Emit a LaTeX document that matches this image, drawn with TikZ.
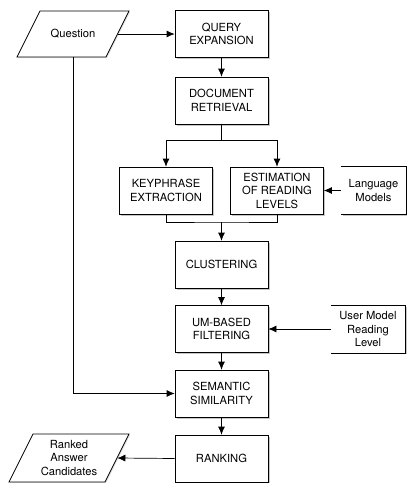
\documentclass[tikz,border=0pt]{standalone}
\usepackage{fontspec}
\setmainfont{TeX Gyre Heros}
\usetikzlibrary{arrows.meta,shadows}

\begin{document}
\begin{tikzpicture}[x=1pt,y=-1pt,>={Latex[length=8pt,width=7pt]},line width=0.7pt,
  font=\fontsize{11.2}{13.5}\selectfont,
  shade/.style={drop shadow={shadow xshift=1.5pt,shadow yshift=-1.5pt,opacity=0.45,fill=gray}},
  box/.style={draw,fill=white,align=center,minimum width=93pt,minimum height=47pt,inner sep=2pt,shade},
  side/.style={fill=white,align=center,minimum height=47pt,inner sep=2pt,shade},
  slant/.style={align=center,minimum height=46pt,inner sep=1pt},
  pgram/.style={draw,fill=white,drop shadow={shadow xshift=1pt,shadow yshift=-1pt,opacity=0.25,fill=gray}}]
\useasboundingbox (0,0) rectangle (407,483);
% main column
\node[box] (qexp) at (221.5,34) {QUERY\\EXPANSION};
\node[box] (docret) at (221.5,100.5) {DOCUMENT\\RETRIEVAL};
\node[box] (keyph) at (166,190.5) {KEYPHRASE\\EXTRACTION};
\node[box] (estim) at (277,190.5) {ESTIMATION\\OF READING\\LEVELS};
\node[box] (clust) at (221.5,264.5) {CLUSTERING};
\node[box] (umfilt) at (221.5,329) {UM-BASED\\FILTERING};
\node[box] (semsim) at (221.5,393.5) {SEMANTIC\\SIMILARITY};
\node[box] (rank) at (221.5,458.5) {RANKING};
% inputs and output
\draw[pgram] (40,11)--(129,11)--(106,57)--(17,57)--cycle;
\node[slant,minimum width=89pt] (question) at (73,34) {Question};
\draw[pgram] (33,434)--(129,434)--(105,482)--(9,482)--cycle;
\node[slant,minimum width=96pt,minimum height=48pt] (answers) at (69,458) {Ranked\\Answer\\Candidates};
\node[side,minimum width=65pt] (langmod) at (373.5,190.5) {Language\\Models};
\node[side,minimum width=74pt] (usermod) at (368,329) {User Model\\Reading\\Level};
\draw (langmod.north west)--(langmod.north east)--(langmod.south east)--(langmod.south west);
\draw (usermod.north west)--(usermod.north east)--(usermod.south east)--(usermod.south west);
% connectors
\coordinate (split) at (221.5,140);
\coordinate (merge) at (221.5,222);
\draw[->] (question)--(qexp);
\draw[->] (qexp)--(docret);
\draw[->] (docret.south)--(split)-|(keyph.north);
\draw[->] (split)-|(estim.north);
\draw (keyph.south)|-(merge)-|(estim.south);
\draw[->] (merge)--(clust.north);
\draw[->] (langmod)--(estim);
\draw[->] (clust)--(umfilt);
\draw[->] (usermod)--(umfilt);
\draw[->] (umfilt)--(semsim);
\draw[->] (question)|-(semsim.west);
\draw[->] (semsim)--(rank);
\draw[->] (rank.west)--(answers.east);
\end{tikzpicture}
\end{document}
